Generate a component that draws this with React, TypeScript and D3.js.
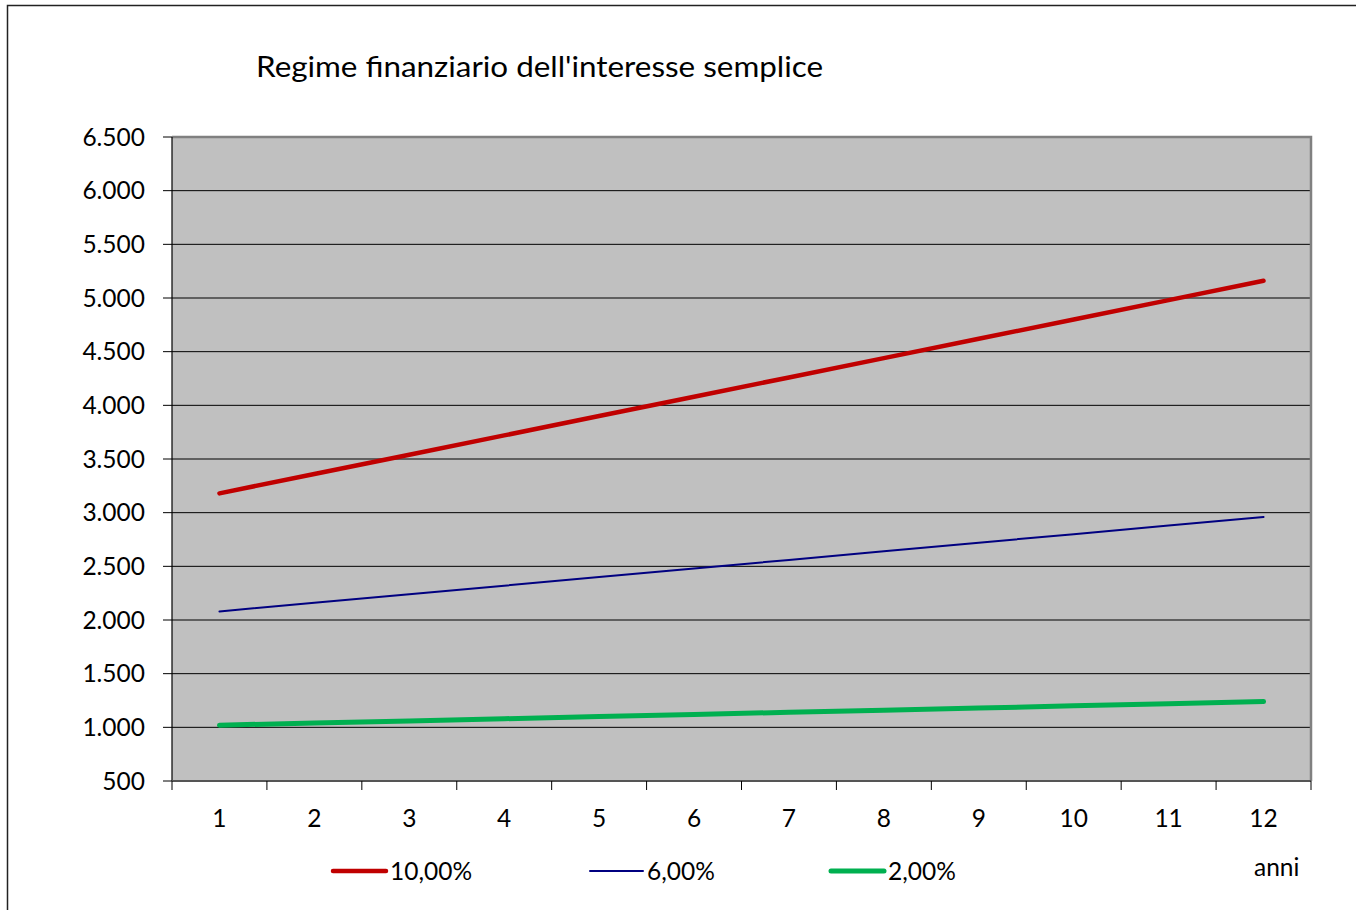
import * as d3 from "d3"

const years = [1, 2, 3, 4, 5, 6, 7, 8, 9, 10, 11, 12]
const rate10 = [3180, 3360, 3540, 3720, 3900, 4080, 4260, 4440, 4620, 4800, 4980, 5160]
const rate6 = [2080, 2160, 2240, 2320, 2400, 2480, 2560, 2640, 2720, 2800, 2880, 2960]
const rate2 = [1020, 1040, 1060, 1080, 1100, 1120, 1140, 1160, 1180, 1200, 1220, 1240]
const yTicks = [500, 1000, 1500, 2000, 2500, 3000, 3500, 4000, 4500, 5000, 5500, 6000, 6500]

const series = [
  { name: "10,00%", values: rate10, color: "#C00000", width: 4.5 },
  { name: "6,00%", values: rate6, color: "#000080", width: 2 },
  { name: "2,00%", values: rate2, color: "#00B050", width: 5 },
]

const FONT = "Lato, 'Open Sans', sans-serif"
const PLOT = { left: 172, right: 1311, top: 137, bottom: 781 }
const LABEL_SIZE = 24.5

const fmt = (v: number) => d3.format(",")(v).replace(/,/g, ".")

export default function App() {
  const x = d3
    .scaleBand<number>()
    .domain(years)
    .range([PLOT.left, PLOT.right])
  const y = d3.scaleLinear().domain([500, 6500]).range([PLOT.bottom, PLOT.top])

  const line = (vals: number[]) =>
    d3
      .line<number>()
      .x((_, i) => x(years[i])! + x.bandwidth() / 2)
      .y((v) => y(v))(vals)!

  const legendX = [333, 590, 831]

  return (
    <svg
      width={1356}
      height={910}
      style={{ position: "absolute", left: 0, top: 0 }}
      fontFamily={FONT}
    >
      <rect x={0} y={0} width={1356} height={910} fill="#fff" />
      <rect x={7.5} y={5.5} width={1360} height={920} fill="none" stroke="#222" strokeWidth={1.5} />

      <text x={256} y={77} fontSize={28.5} fill="#000" textLength={567} lengthAdjust="spacingAndGlyphs">
        Regime finanziario dell'interesse semplice
      </text>

      <rect
        x={PLOT.left}
        y={PLOT.top}
        width={PLOT.right - PLOT.left}
        height={PLOT.bottom - PLOT.top}
        fill="#C0C0C0"
      />

      {yTicks.map((t) => (
        <g key={t}>
          {t !== 500 && t !== 6500 && (
            <line x1={PLOT.left} x2={PLOT.right} y1={y(t)} y2={y(t)} stroke="#000" strokeWidth={1} />
          )}
          <line x1={PLOT.left - 9} x2={PLOT.left} y1={y(t)} y2={y(t)} stroke="#000" strokeWidth={1} />
          <text x={145} y={y(t)} dy="0.36em" textAnchor="end" fontSize={LABEL_SIZE} fill="#000">
            {fmt(t)}
          </text>
        </g>
      ))}

      {/* plot border top/right */}
      <path
        d={`M${PLOT.left},${PLOT.top}H${PLOT.right}V${PLOT.bottom}`}
        fill="none"
        stroke="#808080"
        strokeWidth={2.5}
      />
      <line x1={PLOT.left} x2={PLOT.left} y1={PLOT.top} y2={PLOT.bottom} stroke="#000" strokeWidth={1.2} />
      <line x1={PLOT.left} x2={PLOT.right} y1={PLOT.bottom} y2={PLOT.bottom} stroke="#555" strokeWidth={2} />

      {[...years, 13].map((yr, i) => {
        const px = PLOT.left + i * x.bandwidth()
        return <line key={yr} x1={px} x2={px} y1={PLOT.bottom} y2={PLOT.bottom + 9} stroke="#000" strokeWidth={1} />
      })}
      {years.map((yr) => (
        <text
          key={yr}
          x={x(yr)! + x.bandwidth() / 2}
          y={827}
          textAnchor="middle"
          fontSize={LABEL_SIZE}
          fill="#000"
        >
          {yr}
        </text>
      ))}

      {series.map((s) => (
        <path key={s.name} d={line(s.values)} fill="none" stroke={s.color} strokeWidth={s.width} strokeLinecap="round" />
      ))}

      {series.map((s, i) => (
        <g key={s.name}>
          <line
            x1={legendX[i]}
            x2={legendX[i] + 53}
            y1={871}
            y2={871}
            stroke={s.color}
            strokeWidth={s.width}
            strokeLinecap="round"
          />
          <text x={legendX[i] + 57} y={880} fontSize={LABEL_SIZE} fill="#000">
            {s.name}
          </text>
        </g>
      ))}

      <text x={1254} y={876} fontSize={LABEL_SIZE} fill="#000">
        anni
      </text>
    </svg>
  )
}
